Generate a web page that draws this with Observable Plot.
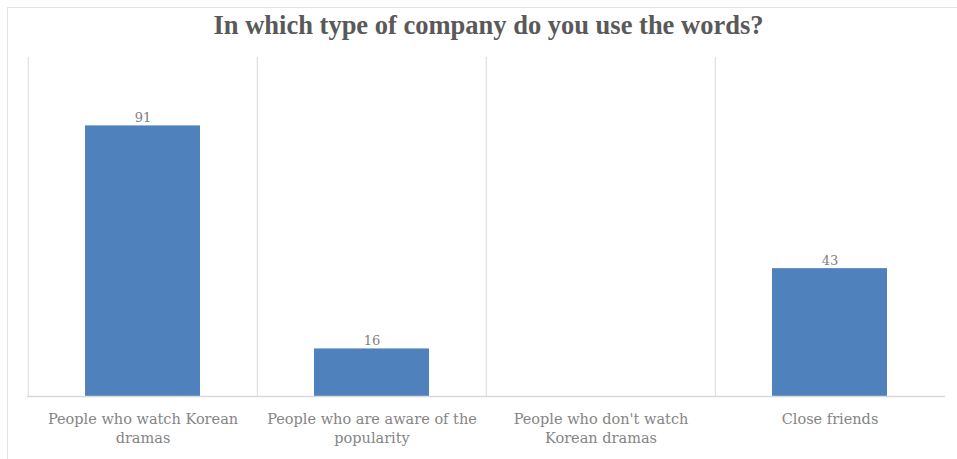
<!DOCTYPE html>
<html>
<head>
<meta charset="utf-8">
<script src="https://cdn.jsdelivr.net/npm/d3@7"></script>
<script src="https://cdn.jsdelivr.net/npm/@observablehq/plot@0.6"></script>
<style>
  html, body { margin: 0; padding: 0; background: #fff; }
  #chart {
    position: relative; width: 957px; height: 459px; overflow: hidden;
  }
  #frame {
    position: absolute; left: 7px; top: 7px; width: 960px; height: 460px;
    border-left: 1px solid #e3e3e3; border-top: 1px solid #e3e3e3;
  }
  #title {
    position: absolute; left: 10px; top: 9px; width: 957px; text-align: center;
    font-family: "Liberation Serif", serif; font-weight: bold; font-size: 26.5px;
    line-height: 32px; color: #595959;
  }
  #plot { position: absolute; left: 0; top: 50px; }
</style>
</head>
<body>
<div id="chart">
  <div id="frame"></div>
  <div id="title">In which type of company do you use the words?</div>
  <div id="plot"></div>
</div>
<script>
// Companies in which the words are used, with respondent counts
const categories = [
  "People who watch Korean dramas",
  "People who are aware of the popularity",
  "People who don't watch Korean dramas",
  "Close friends"
];
const counts = [91, 16, 0, 43];
const tickLabels = [
  "People who watch Korean\ndramas",
  "People who are aware of the\npopularity",
  "People who don't watch\nKorean dramas",
  "Close friends"
];

const data = categories.map((c, i) => ({category: c, count: counts[i]}));

const W = 957, H = 409;
const mL = 27, mR = 12, mT = 7, mB = 63;
const yMax = 114;
const step = (W - mL - mR) / categories.length;

const chart = Plot.plot({
  width: W,
  height: H,
  marginLeft: mL,
  marginRight: mR,
  marginTop: mT,
  marginBottom: mB,
  style: {fontFamily: "'DejaVu Serif', serif", background: "transparent"},
  x: {domain: categories, paddingInner: 0.5, paddingOuter: 0.25, label: null},
  y: {domain: [0, yMax], axis: null},
  marks: [
    Plot.ruleX(categories, {x: d => d, dx: -step / 2, y1: 0, y2: yMax, stroke: "#d9d9d9", strokeWidth: 1}),
    Plot.barY(data, {x: "category", y: "count", fill: "#4f81bd"}),
    Plot.ruleY([0], {stroke: "#d9d9d9", strokeWidth: 1.5}),
    Plot.text(data.filter(d => d.count > 0), {
      x: "category", y: "count", text: d => String(d.count),
      dy: -8, fill: "#808080", fontSize: 13
    }),
    Plot.axisX({
      tickSize: 0, tickPadding: 14,
      tickFormat: (d, i) => tickLabels[categories.indexOf(d)],
      fontSize: 14.5, fill: "#858585", lineHeight: 1.3
    })
  ]
});

document.getElementById("plot").appendChild(chart);
</script>
</body>
</html>
